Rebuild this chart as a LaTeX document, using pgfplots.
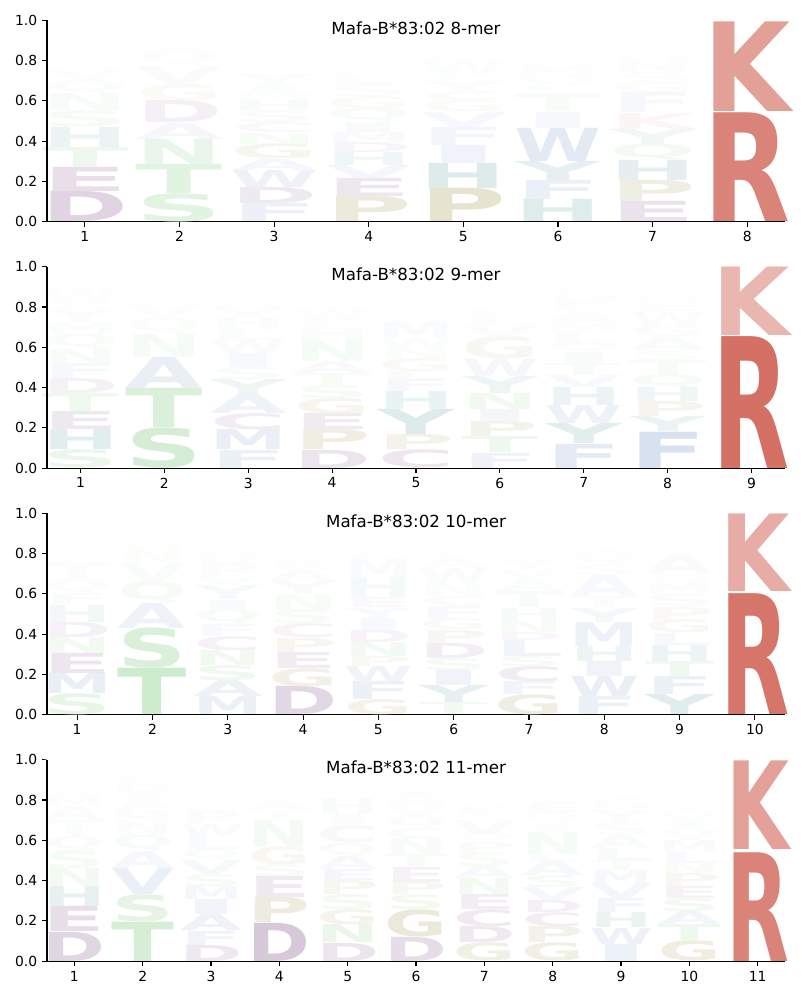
\documentclass[border=0pt]{standalone}
\usepackage{fontspec}
\setmainfont{DejaVu Sans}
\newfontfamily\logofont{DejaVu Sans}
\usepackage{graphicx}
\usepackage{pgfplots}
\usepackage{pgfplotstable}
\pgfplotsset{compat=1.18}

\definecolor{cR}{RGB}{212,112,100}
\definecolor{cK}{RGB}{212,112,100}
\definecolor{cD}{RGB}{126,77,135}
\definecolor{cE}{RGB}{126,77,135}
\definecolor{cC}{RGB}{150,90,140}
\definecolor{cS}{RGB}{120,200,120}
\definecolor{cT}{RGB}{120,200,120}
\definecolor{cN}{RGB}{120,200,120}
\definecolor{cQ}{RGB}{120,200,120}
\definecolor{cP}{RGB}{160,150,75}
\definecolor{cG}{RGB}{160,150,75}
\definecolor{cH}{RGB}{70,145,145}
\definecolor{cY}{RGB}{70,145,145}
\definecolor{cA}{RGB}{120,150,200}
\definecolor{cV}{RGB}{120,150,200}
\definecolor{cL}{RGB}{120,150,200}
\definecolor{cI}{RGB}{120,150,200}
\definecolor{cM}{RGB}{120,150,200}
\definecolor{cF}{RGB}{120,150,200}
\definecolor{cW}{RGB}{120,150,200}

\pgfplotsset{
  logoaxis/.style={
    scale only axis, width=531.4pt, height=145pt,
    ymin=0, ymax=1,
    ytick={0,0.2,0.4,0.6,0.8,1},
    yticklabels={0.0,0.2,0.4,0.6,0.8,1.0},
    axis x line*=bottom, axis y line*=left,
    axis line style={-, line width=0.8pt, black},
    axis on top,
    after end axis/.code={\draw[line width=0.8pt, black] (rel axis cs:0,0) -- (rel axis cs:0,1);},
    tick align=outside, major tick length=3.5pt,
    tick style={black, line width=0.8pt},
    tick label style={font=\fontsize{10}{12}\selectfont},
    /pgf/number format/assume math mode=true,
    title style={at={(0.5,0.921)}, anchor=center, font=\fontsize{12}{14}\selectfont},
    anchor=south west,
  },
  logoplot/.style={
    only marks, mark=none,
    point meta=explicit symbolic,
    visualization depends on={145*(\thisrow{t}-\thisrow{b}) \as \HH},
    visualization depends on={min(100,150*(\thisrow{t}-\thisrow{b})*max((\thisrow{t}-\thisrow{b})>0.3,1.07*exp(-3*\thisrow{b}*\thisrow{b}))) \as \PP},
    nodes near coords={\resizebox*{#1}{\HH pt}{\color{c\pgfplotspointmeta!\PP!white}\logofont\bfseries \pgfplotspointmeta}},
    every node near coord/.append style={anchor=south, inner sep=0pt, outer sep=0pt},
  },
}

\pgfplotstableread{
x b t L
1 0 .15 D
1 .15 .27 E
1 .27 .37 T
1 .37 .47 H
1 .47 .55 S
1 .55 .635 N
1 .635 .70 Q
1 .70 .76 V
1 .76 .80 I
1 .80 .85 M
1 .85 .89 Y
1 .89 .92 A
1 .92 .945 F
1 .945 .965 W
1 .965 .98 G
1 .98 .99 K
1 .99 1 R
2 0 .14 S
2 .14 .285 T
2 .285 .41 N
2 .41 .49 A
2 .49 .60 D
2 .60 .68 G
2 .68 .77 V
2 .77 .855 Q
2 .855 .91 I
2 .91 .94 F
2 .94 .96 E
2 .96 .975 M
2 .975 .985 W
2 .985 .993 K
2 .993 1 R
3 0 .09 F
3 .09 .17 D
3 .17 .255 W
3 .255 .31 A
3 .31 .385 G
3 .385 .44 N
3 .44 .49 C
3 .49 .55 S
3 .55 .60 H
3 .60 .64 M
3 .64 .68 I
3 .68 .73 Y
3 .73 .78 Q
3 .78 .82 T
3 .82 .87 V
3 .87 .90 E
3 .90 .93 L
3 .93 .955 K
3 .955 .975 R
3 .975 1 P
4 0 .125 P
4 .125 .215 E
4 .215 .28 V
4 .28 .345 H
4 .345 .395 D
4 .395 .445 M
4 .445 .495 I
4 .495 .56 Q
4 .56 .62 G
4 .62 .68 S
4 .68 .72 L
4 .72 .77 N
4 .77 .82 T
4 .82 .86 A
4 .86 .90 Y
4 .90 .93 W
4 .93 .955 F
4 .955 .975 K
4 .975 .99 R
4 .99 1 C
5 0 .165 P
5 .165 .29 H
5 .29 .38 I
5 .38 .47 F
5 .47 .545 V
5 .545 .60 G
5 .60 .645 C
5 .645 .695 Y
5 .695 .73 L
5 .73 .80 W
5 .80 .84 A
5 .84 .88 T
5 .88 .92 M
5 .92 .95 S
5 .95 .97 N
5 .97 .985 Q
5 .985 1 K
6 0 .11 H
6 .11 .205 F
6 .205 .30 Y
6 .30 .465 W
6 .465 .545 I
6 .545 .63 T
6 .63 .67 L
6 .67 .725 Q
6 .725 .775 M
6 .775 .815 A
6 .815 .855 V
6 .855 .89 N
6 .89 .92 G
6 .92 .945 S
6 .945 .965 K
6 .965 .98 R
6 .98 1 E
7 0 .10 E
7 .10 .205 P
7 .205 .305 H
7 .305 .385 Q
7 .385 .46 Y
7 .46 .54 K
7 .54 .64 F
7 .64 .69 G
7 .69 .74 S
7 .74 .80 N
7 .80 .85 A
7 .85 .88 T
7 .88 .91 M
7 .91 .935 W
7 .935 .96 V
7 .96 .98 D
7 .98 1 R
8 0 .54 R
8 .545 .99 K
}\tblA

\pgfplotstableread{
x b t L
1 0 .09 S
1 .09 .19 H
1 .19 .28 E
1 .28 .37 T
1 .37 .445 D
1 .445 .52 F
1 .52 .59 N
1 .59 .665 Q
1 .665 .725 M
1 .725 .79 Y
1 .79 .815 I
1 .815 .89 W
1 .89 .92 G
1 .92 .94 A
1 .94 .96 K
1 .96 .975 R
1 .975 .99 V
1 .99 1 L
2 0 .20 S
2 .20 .395 T
2 .395 .55 A
2 .55 .665 N
2 .665 .745 Q
2 .745 .815 V
2 .815 .87 G
2 .87 .915 I
2 .915 .955 M
2 .955 .975 E
2 .975 .99 K
2 .99 1 R
3 0 .09 F
3 .09 .19 M
3 .19 .27 C
3 .27 .36 A
3 .36 .44 Y
3 .44 .50 S
3 .50 .57 I
3 .57 .635 W
3 .635 .69 L
3 .69 .75 H
3 .75 .81 V
3 .81 .84 T
3 .84 .89 N
3 .89 .91 Q
3 .91 .935 G
3 .935 .955 E
3 .955 .97 K
3 .97 .985 R
3 .985 1 D
4 0 .09 D
4 .09 .19 P
4 .19 .27 E
4 .27 .345 G
4 .345 .41 S
4 .41 .47 T
4 .47 .53 A
4 .53 .635 N
4 .635 .69 H
4 .69 .735 L
4 .735 .80 W
4 .80 .84 Q
4 .84 .87 C
4 .87 .90 M
4 .90 .925 F
4 .925 .95 V
4 .95 .97 K
4 .97 .985 R
4 .985 1 I
5 0 .09 C
5 .09 .165 P
5 .165 .29 Y
5 .29 .38 H
5 .38 .44 F
5 .44 .48 L
5 .48 .545 G
5 .545 .595 N
5 .595 .645 W
5 .645 .73 M
5 .73 .775 T
5 .775 .82 V
5 .82 .86 A
5 .86 .89 S
5 .89 .92 E
5 .92 .945 D
5 .945 .965 Q
5 .965 .98 K
5 .98 1 R
6 0 .075 F
6 .075 .155 T
6 .155 .23 P
6 .23 .29 I
6 .29 .37 N
6 .37 .455 Y
6 .455 .54 W
6 .54 .65 G
6 .65 .71 V
6 .71 .75 L
6 .75 .79 E
6 .79 .855 Q
6 .855 .89 S
6 .89 .92 A
6 .92 .945 H
6 .945 .965 M
6 .965 .98 K
6 .98 1 D
7 0 .12 F
7 .12 .22 Y
7 .22 .31 W
7 .31 .40 H
7 .40 .46 V
7 .46 .52 T
7 .52 .575 I
7 .575 .62 Q
7 .62 .675 L
7 .675 .72 M
7 .72 .78 A
7 .78 .82 E
7 .82 .86 D
7 .86 .89 G
7 .89 .92 N
7 .92 .945 S
7 .945 .965 K
7 .965 .985 R
7 .985 1 P
8 0 .18 F
8 .18 .255 Y
8 .255 .33 P
8 .33 .40 H
8 .40 .465 Q
8 .465 .535 T
8 .535 .585 S
8 .585 .65 A
8 .65 .705 G
8 .705 .775 W
8 .775 .82 E
8 .82 .865 N
8 .865 .89 I
8 .89 .92 M
8 .92 .95 V
8 .95 .97 K
8 .97 .985 R
8 .985 1 D
9 0 .655 R
9 .66 1 K
}\tblB

\pgfplotstableread{
x b t L
1 0 .105 S
1 .105 .205 M
1 .205 .305 E
1 .305 .385 N
1 .385 .46 D
1 .46 .545 H
1 .545 .60 F
1 .60 .67 Q
1 .67 .75 T
1 .75 .78 I
1 .78 .81 C
1 .81 .86 A
1 .86 .91 V
1 .91 .935 K
1 .935 .96 W
1 .96 .975 R
1 .975 .99 G
1 .99 1 L
2 0 .23 T
2 .23 .43 S
2 .43 .555 A
2 .555 .66 Q
2 .66 .75 V
2 .75 .82 N
2 .82 .88 G
2 .88 .92 M
2 .92 .945 L
2 .945 .965 E
2 .965 .98 K
2 .98 1 R
3 0 .09 M
3 .09 .17 A
3 .17 .245 S
3 .245 .32 N
3 .32 .39 C
3 .39 .45 F
3 .45 .52 Q
3 .52 .57 I
3 .57 .64 Y
3 .64 .68 V
3 .68 .75 P
3 .75 .80 H
3 .80 .845 G
3 .845 .88 L
3 .88 .91 D
3 .91 .945 W
3 .945 .965 K
3 .965 .985 T
3 .985 1 R
4 0 .14 D
4 .14 .23 G
4 .23 .31 E
4 .31 .38 P
4 .38 .45 C
4 .45 .52 S
4 .52 .60 N
4 .60 .66 Y
4 .66 .72 A
4 .72 .76 K
4 .76 .80 I
4 .80 .83 L
4 .83 .86 H
4 .86 .89 Q
4 .89 .92 T
4 .92 .94 M
4 .94 .96 W
4 .96 .98 R
4 .98 1 V
5 0 .075 G
5 .075 .165 F
5 .165 .24 W
5 .24 .29 P
5 .29 .36 N
5 .36 .42 D
5 .42 .48 I
5 .48 .53 Y
5 .53 .58 E
5 .58 .68 H
5 .68 .77 M
5 .77 .81 L
5 .81 .845 T
5 .845 .88 V
5 .88 .91 S
5 .91 .935 A
5 .935 .955 Q
5 .955 .97 C
5 .97 .985 K
5 .985 1 R
6 0 .06 T
6 .06 .145 Y
6 .145 .22 I
6 .22 .28 S
6 .28 .355 D
6 .355 .42 P
6 .42 .475 G
6 .475 .54 F
6 .54 .585 C
6 .585 .65 N
6 .65 .725 W
6 .725 .775 A
6 .775 .82 L
6 .82 .86 Q
6 .86 .89 E
6 .89 .92 V
6 .92 .945 M
6 .945 .965 H
6 .965 .985 K
6 .985 1 R
7 0 .10 G
7 .10 .165 F
7 .165 .24 C
7 .24 .29 S
7 .29 .37 L
7 .37 .41 D
7 .41 .47 N
7 .47 .53 H
7 .53 .61 T
7 .61 .67 A
7 .67 .72 V
7 .72 .77 Y
7 .77 .81 W
7 .81 .85 P
7 .85 .88 Q
7 .88 .91 M
7 .91 .94 E
7 .94 .96 R
7 .96 .985 K
7 .985 1 I
8 0 .09 F
8 .09 .19 W
8 .19 .265 I
8 .265 .34 H
8 .34 .46 M
8 .46 .53 Y
8 .53 .585 T
8 .585 .69 A
8 .69 .745 S
8 .745 .81 Q
8 .81 .85 L
8 .85 .885 G
8 .885 .92 N
8 .92 .945 E
8 .945 .965 P
8 .965 .985 K
8 .985 1 R
9 0 .10 Y
9 .10 .19 F
9 .19 .265 T
9 .265 .345 H
9 .345 .405 L
9 .405 .47 G
9 .47 .535 P
9 .535 .60 S
9 .60 .65 M
9 .65 .70 Q
9 .70 .79 A
9 .79 .82 I
9 .82 .86 N
9 .86 .90 W
9 .90 .93 V
9 .93 .955 D
9 .955 .975 K
9 .975 .99 R
9 .99 1 C
10 0 .60 R
10 .61 .995 K
}\tblC

\pgfplotstableread{
x b t L
1 0 .145 D
1 .145 .27 E
1 .27 .37 H
1 .37 .46 N
1 .46 .55 S
1 .55 .62 Q
1 .62 .70 T
1 .70 .77 A
1 .77 .82 M
1 .82 .85 R
1 .85 .88 F
1 .88 .91 I
1 .91 .94 Y
1 .94 .96 K
1 .96 .98 W
1 .98 1 V
2 0 .195 T
2 .195 .33 S
2 .33 .46 V
2 .46 .545 A
2 .545 .625 Q
2 .625 .70 N
2 .70 .775 G
2 .775 .83 I
2 .83 .88 D
2 .88 .91 F
2 .91 .935 E
2 .935 .955 L
2 .955 .975 K
2 .975 .99 R
2 .99 1 Y
3 0 .08 D
3 .08 .15 F
3 .15 .23 A
3 .23 .305 I
3 .305 .37 M
3 .37 .43 S
3 .43 .50 V
3 .50 .555 Q
3 .555 .615 L
3 .615 .68 W
3 .68 .75 P
3 .75 .80 N
3 .80 .83 Y
3 .83 .87 G
3 .87 .90 E
3 .90 .93 T
3 .93 .95 H
3 .95 .975 R
3 .975 1 K
4 0 .19 D
4 .19 .315 P
4 .315 .42 E
4 .42 .48 S
4 .48 .57 G
4 .57 .70 N
4 .70 .75 T
4 .75 .80 A
4 .80 .84 I
4 .84 .89 H
4 .89 .92 M
4 .92 .945 K
4 .945 .965 W
4 .965 .98 V
4 .98 1 R
5 0 .09 D
5 .09 .18 N
5 .18 .255 G
5 .255 .33 S
5 .33 .40 P
5 .40 .455 E
5 .455 .52 A
5 .52 .585 Q
5 .585 .67 C
5 .67 .73 I
5 .73 .81 H
5 .81 .85 V
5 .85 .88 L
5 .88 .91 Y
5 .91 .935 M
5 .935 .955 F
5 .955 .975 K
5 .975 .99 R
5 .99 1 W
6 0 .12 D
6 .12 .255 G
6 .255 .33 S
6 .33 .39 P
6 .39 .465 E
6 .465 .53 T
6 .53 .61 N
6 .61 .66 C
6 .66 .72 Q
6 .72 .775 V
6 .775 .84 A
6 .84 .87 Y
6 .87 .90 L
6 .90 .925 H
6 .925 .95 M
6 .95 .97 K
6 .97 .985 R
6 .985 1 F
7 0 .09 G
7 .09 .17 D
7 .17 .255 C
7 .255 .33 E
7 .33 .41 N
7 .41 .47 A
7 .47 .54 S
7 .54 .59 P
7 .59 .63 Q
7 .63 .70 V
7 .70 .735 I
7 .735 .775 K
7 .775 .81 T
7 .81 .845 M
7 .845 .875 L
7 .875 .905 H
7 .905 .93 W
7 .93 .955 Y
7 .955 .975 F
7 .975 1 R
8 0 .09 G
8 .09 .17 P
8 .17 .24 C
8 .24 .30 D
8 .30 .365 V
8 .365 .425 S
8 .425 .495 A
8 .495 .53 L
8 .53 .64 N
8 .64 .685 I
8 .685 .74 Q
8 .74 .79 E
8 .79 .83 Y
8 .83 .87 H
8 .87 .91 W
8 .91 .94 M
8 .94 .96 T
8 .96 .98 K
8 .98 1 R
9 0 .085 I
9 .085 .165 W
9 .165 .24 H
9 .24 .31 F
9 .31 .385 V
9 .385 .45 M
9 .45 .50 T
9 .50 .56 L
9 .56 .625 A
9 .625 .69 S
9 .69 .75 Y
9 .75 .81 G
9 .81 .84 C
9 .84 .87 N
9 .87 .90 Q
9 .90 .925 E
9 .925 .95 P
9 .95 .97 K
9 .97 .985 D
9 .985 1 R
10 0 .10 G
10 .10 .18 T
10 .18 .245 A
10 .245 .31 S
10 .31 .37 E
10 .37 .435 P
10 .435 .485 N
10 .485 .54 L
10 .54 .60 M
10 .60 .65 V
10 .65 .70 I
10 .70 .75 Q
10 .75 .79 Y
10 .79 .83 W
10 .83 .86 H
10 .86 .89 F
10 .89 .92 R
10 .92 .95 K
10 .95 .975 D
10 .975 1 C
11 0 .54 R
11 .555 .995 K
}\tblD

\begin{document}
\begin{tikzpicture}
\useasboundingbox (0,0) rectangle (576pt,-720pt);

\begin{axis}[logoaxis, at={(33.84pt,-159.6pt)},
  xmin=0.6, xmax=8.4, xtick={1,...,8},
  title={Mafa-B*83:02 8-mer}]
\addplot[logoplot=62.7pt] table[x=x,y=b,meta=L] {\tblA};
\end{axis}

\begin{axis}[logoaxis, at={(33.84pt,-337pt)},
  xmin=0.6, xmax=9.4, xtick={1,...,9},
  title={Mafa-B*83:02 9-mer}]
\addplot[logoplot=55.6pt] table[x=x,y=b,meta=L] {\tblB};
\end{axis}

\begin{axis}[logoaxis, at={(33.84pt,-514.6pt)},
  xmin=0.6, xmax=10.4, xtick={1,...,10},
  title={Mafa-B*83:02 10-mer}]
\addplot[logoplot=49.9pt] table[x=x,y=b,meta=L] {\tblC};
\end{axis}

\begin{axis}[logoaxis, at={(33.84pt,-692pt)},
  xmin=0.6, xmax=11.4, xtick={1,...,11},
  title={Mafa-B*83:02 11-mer}]
\addplot[logoplot=45.3pt] table[x=x,y=b,meta=L] {\tblD};
\end{axis}
\end{tikzpicture}
\end{document}
